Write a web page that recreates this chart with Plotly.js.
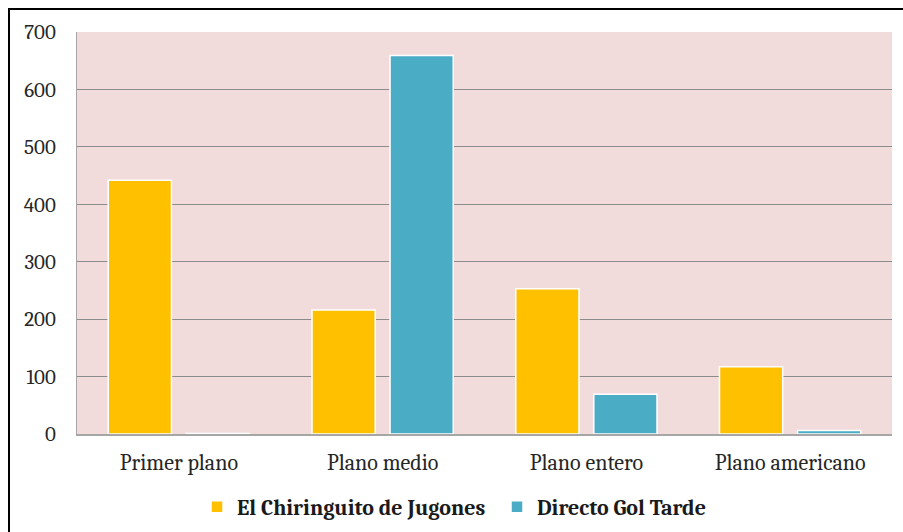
<!DOCTYPE html>
<html><head><meta charset="utf-8">
<script src="https://cdn.plot.ly/plotly-3.0.1.min.js"></script>
<style>
html,body{margin:0;padding:0;background:#fff;}
#wrap{position:relative;width:903px;height:532px;}
#chart{width:903px;height:532px;}
#frame{position:absolute;left:8px;top:8px;width:900px;height:530px;border-left:2px solid #000;border-top:2px solid #000;pointer-events:none;}
</style></head>
<body>
<div id="wrap"><div id="chart"></div><div id="frame"></div></div>
<script>
const categories = ["Primer plano", "Plano medio", "Plano entero", "Plano americano"];
const seriesNames = ["El Chiringuito de Jugones", "Directo Gol Tarde"];
const chiringuito = [442, 216, 253, 117];
const directoGol = [1, 659, 69, 6];
const yTicks = [0, 100, 200, 300, 400, 500, 600, 700];

const font = "Cambria, 'Liberation Serif', 'DejaVu Serif', serif";
const traces = [
  {type:'bar', name:seriesNames[0], x:categories, y:chiringuito, legend:'legend',
   marker:{color:'#ffc000', line:{color:'#ffffff', width:1.5}}},
  {type:'bar', name:seriesNames[1], x:categories, y:directoGol, legend:'legend2',
   marker:{color:'#4bacc6', line:{color:'#ffffff', width:1.5}}}
];
const legFont = {family:font, size:22, color:'#1a1a1a', weight:'bold'};
const layout = {
  width:903, height:532,
  margin:{l:77, r:11, t:32, b:97.5},
  paper_bgcolor:'#ffffff', plot_bgcolor:'#f2dcdb',
  barmode:'group', bargap:0.234, bargroupgap:0.19,
  showlegend:true,
  legend:{orientation:'h', xref:'container', yref:'container', x:0.2182, xanchor:'left', y:0.047, yanchor:'middle',
          font:legFont, itemwidth:30, bgcolor:'rgba(0,0,0,0)'},
  legend2:{orientation:'h', xref:'container', yref:'container', x:0.5504, xanchor:'left', y:0.047, yanchor:'middle',
          font:legFont, itemwidth:30, bgcolor:'rgba(0,0,0,0)'},
  xaxis:{type:'category', tickfont:{family:font, size:22, color:'#262626'}, showline:true, linecolor:'#a6a6a6', linewidth:1.5,
         ticks:'', showgrid:false, ticklabelstandoff:8},
  yaxis:{range:[0,700], tickvals:yTicks, ticktext:yTicks.map(String), tickfont:{family:font, size:21, color:'#262626'},
         showgrid:true, gridcolor:'#8c8c8c', gridwidth:1, zeroline:false, showline:true, linecolor:'#a6a6a6', linewidth:1,
         ticks:'', ticklabelstandoff:16}
};
Plotly.newPlot('chart', traces, layout, {staticPlot:true, displayModeBar:false});
</script>
</body></html>
